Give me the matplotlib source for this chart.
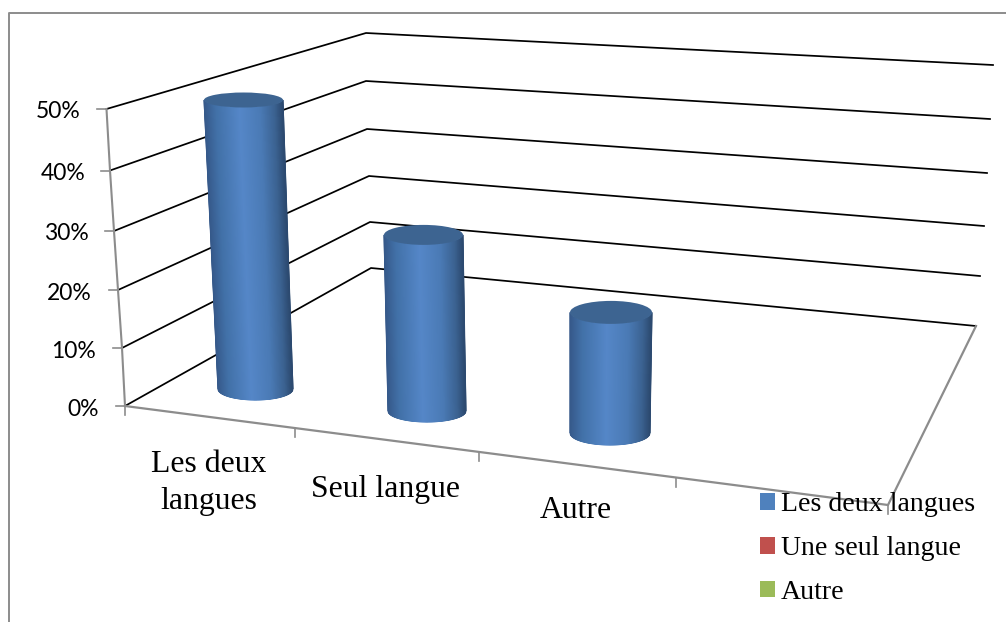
import numpy as np
import matplotlib.pyplot as plt
from matplotlib.colors import LinearSegmentedColormap
from matplotlib.patches import Ellipse, Patch

# Data
categories = ['Les deux\nlangues', 'Seul langue', 'Autre']
values = [50, 30, 20]
axis_values = [0, 10, 20, 30, 40, 50]
axis_labels = ['0%', '10%', '20%', '30%', '40%', '50%']
legend_names = ['Les deux langues', 'Une seul langue', 'Autre']
legend_colors = ['#4f81bd', '#c0504d', '#9bbb59']

# Perspective of the 3D box, in pixels of the picture
front_x = [125, 122, 118, 114, 110, 106.5]
front_y = [406, 348, 290, 231, 170.5, 109]
back_x = [371, 370, 369, 367, 366, 366]
back_y = [268, 222, 176, 129, 81, 33]
right_x = [976, 980, 984, 987, 990, 993]
right_y = [326, 276, 226, 173, 119, 65]
floor_corner = (888, 505)
cat_ticks = [(125, 406), (295, 428), (479, 452), (676, 478), (888, 505)]
label_pos = [(209, 483), (386, 490), (575.5, 511)]
ytick_right = [99, 96, 92, 89, 85, 81]
ytick_mid = [409.5, 352, 293, 234, 174, 112]

# Cylinders: base position, scale of one percent, lean and radii
base_x = [255.5, 427, 610]
base_y = [389, 411, 433]
px_per_unit = [5.78, 5.87, 6.03]
lean_per_unit = [-0.24, -0.117, 0.05]
width_base = [37.5, 39, 40]
width_top = [39.5, 39.5, 41]
height_base = [11, 11, 12]
height_top = [7.5, 10, 11.5]

cyl_map = LinearSegmentedColormap.from_list('cyl', [
    (0.0, '#36598a'), (0.15, '#4271a8'), (0.45, '#5587c8'),
    (0.72, '#4a7ab5'), (0.9, '#3b6291'), (1.0, '#2c4a70')])

grey = '#8c8c8c'
plt.rcParams['font.family'] = ['Liberation Serif', 'DejaVu Sans']

fig = plt.figure(figsize=(10.06, 6.22), dpi=100)
ax = fig.add_axes([0, 0, 1, 1])
ax.set_xlim(0, 1006)
ax.set_ylim(622, 0)
ax.axis('off')

# Outer frame
ax.plot([9, 9, 1006], [622, 13, 13], color=grey, lw=1.4, zorder=1)

# Walls
for i in range(len(axis_values)):
    ax.plot([front_x[i], back_x[i], right_x[i]],
            [front_y[i], back_y[i], right_y[i]],
            color='black', lw=1.25, zorder=2)
    ax.plot([front_x[i] - 9, front_x[i]], [front_y[i], front_y[i]],
            color=grey, lw=1.2, zorder=2)
    ax.text(ytick_right[i], ytick_mid[i], axis_labels[i], family='Lato',
            fontsize=16.5, ha='right', va='center', color='black')

# Floor and axes
ax.plot(front_x, front_y, color=grey, lw=1.5, zorder=2)
ax.plot([front_x[0], floor_corner[0], right_x[0]],
        [front_y[0], floor_corner[1], right_y[0]],
        color=grey, lw=1.6, zorder=2)
for x, y in cat_ticks:
    ax.plot([x, x], [y, y + 9], color=grey, lw=1.2, zorder=2)

# Cylinders
u = np.linspace(-1, 1, 161)
arc = np.sqrt(1 - u**2)
for i, v in enumerate(values):
    top_x = base_x[i] + lean_per_unit[i] * v
    top_y = base_y[i] - px_per_unit[i] * v
    X = np.vstack([top_x + width_top[i] * u, base_x[i] + width_base[i] * u])
    Y = np.vstack([top_y + height_top[i] * arc, base_y[i] + height_base[i] * arc])
    C = np.vstack([(u + 1) / 2, (u + 1) / 2])
    ax.pcolormesh(X, Y, C, cmap=cyl_map, shading='gouraud', vmin=0, vmax=1, zorder=3)
    ax.add_patch(Ellipse((top_x, top_y), 2 * width_top[i], 2 * height_top[i],
                         facecolor='#3d6491', edgecolor='none', zorder=4))

# Category labels
for pos, name in zip(label_pos, categories):
    ax.text(pos[0], pos[1], name, fontsize=22.9, ha='center', va='center',
            linespacing=1.34, color='black', zorder=5)

# Legend
handles = [Patch(facecolor=c, edgecolor='none') for c in legend_colors]
ax.legend(handles, legend_names, loc='upper left', bbox_to_anchor=(752, 484),
          bbox_transform=ax.transData, frameon=False, fontsize=20.1,
          handlelength=0.54, handleheight=0.54, handletextpad=0.19,
          labelspacing=0.67, borderpad=0.3, borderaxespad=0)

fig.savefig('out.png', dpi=100)
